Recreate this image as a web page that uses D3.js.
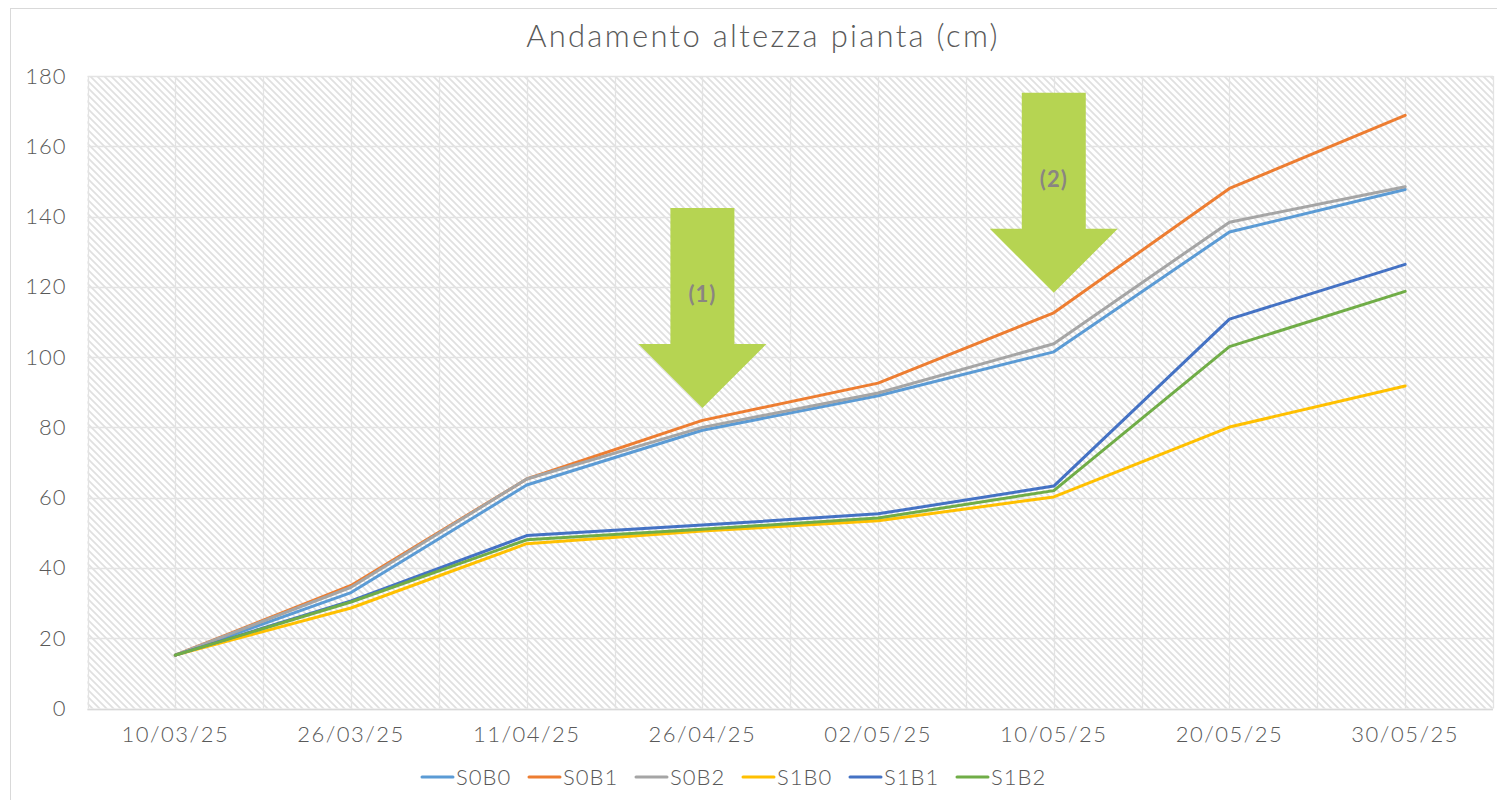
<!DOCTYPE html>
<html>
<head>
<meta charset="utf-8">
<script src="https://cdn.jsdelivr.net/npm/d3@7"></script>
<style>
  html, body { margin: 0; padding: 0; background: #ffffff; }
  svg { display: block; }
  text { font-family: "Lato", "Open Sans", sans-serif; }
</style>
</head>
<body>
<svg id="chart" width="1497" height="800"></svg>
<script>
// ---- data ----
const categories = ["10/03/25", "26/03/25", "11/04/25", "26/04/25", "02/05/25", "10/05/25", "20/05/25", "30/05/25"];
const seriesNames = ["S0B0", "S0B1", "S0B2", "S1B0", "S1B1", "S1B2"];
const S0B0 = [15.2, 33.0, 63.6, 79.2, 89.0, 101.5, 135.6, 147.7];
const S0B1 = [15.2, 35.0, 65.3, 82.0, 92.6, 112.6, 148.0, 168.8];
const S0B2 = [15.2, 34.5, 65.3, 80.0, 89.8, 103.8, 138.4, 148.5];
const S1B0 = [15.2, 28.6, 46.9, 50.5, 53.4, 60.2, 80.1, 91.8];
const S1B1 = [15.2, 30.6, 49.2, 52.2, 55.4, 63.3, 110.8, 126.4];
const S1B2 = [15.2, 30.3, 48.0, 51.0, 54.2, 62.0, 103.0, 118.7];
const seriesValues = [S0B0, S0B1, S0B2, S1B0, S1B1, S1B2];
const seriesColors = ["#5B9BD5", "#ED7D31", "#A5A5A5", "#FFC000", "#4472C4", "#70AD47"];
const yTicks = [0, 20, 40, 60, 80, 100, 120, 140, 160, 180];
// annotation arrows: category, tip value, top value, label
const arrowCats = ["26/04/25", "10/05/25"];
const arrowTips = [85.5, 118.3];
const arrowTops = [142.4, 175.2];
const arrowLabels = ["(1)", "(2)"];
const title = "Andamento altezza pianta (cm)";

// ---- layout ----
const svg = d3.select("#chart");
const plot = { left: 87.5, right: 1493, top: 76, bottom: 708.5 };
const textColor = "#595959";

const x = d3.scaleBand().domain(categories).range([plot.left, plot.right]).padding(0);
const xc = d => x(d) + x.bandwidth() / 2;
const y = d3.scaleLinear().domain([0, 180]).range([plot.bottom, plot.top]);

// outer chart border
svg.append("rect").attr("x", 10.5).attr("y", 8.5).attr("width", 1520).attr("height", 820)
  .attr("fill", "#ffffff").attr("stroke", "#d9d9d9").attr("stroke-width", 1);

// hatch pattern
const defs = svg.append("defs");
const pat = defs.append("pattern").attr("id", "hatch").attr("patternUnits", "userSpaceOnUse")
  .attr("width", 7).attr("height", 7);
pat.append("rect").attr("width", 7).attr("height", 7).attr("fill", "#ffffff");
pat.append("path").attr("d", "M-1,-1 L8,8 M-8,-1 L1,8 M6,-1 L15,8")
  .attr("stroke", "#e0e0e0").attr("stroke-width", 1.7);

svg.append("rect").attr("x", plot.left).attr("y", plot.top)
  .attr("width", plot.right - plot.left).attr("height", plot.bottom - plot.top)
  .attr("fill", "url(#hatch)");

// gridlines
const g = svg.append("g");
g.selectAll(".hgrid").data(yTicks).join("line")
  .attr("x1", plot.left).attr("x2", plot.right)
  .attr("y1", d => Math.round(y(d)) + 0.5).attr("y2", d => Math.round(y(d)) + 0.5)
  .attr("stroke", "#e3e3e3").attr("stroke-width", 1.3);
const vlines = [];
categories.forEach(c => { vlines.push(x(c)); vlines.push(xc(c)); });
vlines.push(plot.right);
g.selectAll(".vgrid").data(vlines).join("line")
  .attr("x1", d => Math.round(d) + 0.5).attr("x2", d => Math.round(d) + 0.5)
  .attr("y1", plot.top).attr("y2", plot.bottom)
  .attr("stroke", "#e3e3e3").attr("stroke-width", 1.3);

// bottom axis line
svg.append("line").attr("x1", plot.left).attr("x2", plot.right)
  .attr("y1", Math.round(plot.bottom) + 0.5).attr("y2", Math.round(plot.bottom) + 0.5)
  .attr("stroke", "#d9d9d9").attr("stroke-width", 1.5);

// y axis labels
const yAxis = d3.axisLeft(y).tickValues(yTicks).tickSize(0).tickPadding(21);
const yg = svg.append("g").attr("transform", `translate(${plot.left},0)`).call(yAxis);
yg.select(".domain").remove();
yg.selectAll("text").attr("fill", textColor).attr("font-size", 22).attr("font-weight", 300)
  .attr("letter-spacing", 1).attr("font-family", "Lato, sans-serif");

// x axis labels
const xAxis = d3.axisBottom(x).tickSize(0).tickPadding(18);
const xg = svg.append("g").attr("transform", `translate(0,${plot.bottom})`).call(xAxis);
xg.select(".domain").remove();
xg.selectAll("text").attr("fill", textColor).attr("font-size", 22).attr("font-weight", 300)
  .attr("letter-spacing", 1.5).attr("font-family", "Lato, sans-serif");

// lines
const line = d3.line().x((d, i) => xc(categories[i])).y(d => y(d));
svg.append("g").selectAll("path").data(seriesValues).join("path")
  .attr("d", d => line(d))
  .attr("fill", "none")
  .attr("stroke", (d, i) => seriesColors[i])
  .attr("stroke-width", 3)
  .attr("stroke-linejoin", "round").attr("stroke-linecap", "round");

// arrows
const shaftHalf = 32, headHalf = 64, headLen = 64;
const ag = svg.append("g");
arrowCats.forEach((c, i) => {
  const cx = xc(c);
  const tipY = y(arrowTips[i]);
  const topY = y(arrowTops[i]);
  const baseY = tipY - headLen;
  const pts = [
    [cx - shaftHalf, topY], [cx + shaftHalf, topY], [cx + shaftHalf, baseY],
    [cx + headHalf, baseY], [cx, tipY], [cx - headHalf, baseY], [cx - shaftHalf, baseY]
  ];
  ag.append("path").attr("d", d3.line()(pts) + "Z").attr("fill", "#B6D452");
  ag.append("text").attr("x", cx).attr("y", (topY + baseY) / 2 + 26)
    .attr("text-anchor", "middle").attr("font-size", 22).attr("font-weight", "bold")
    .attr("letter-spacing", 1)
    .attr("fill", "#8A8582").text(arrowLabels[i]);
});

// title
svg.append("text").attr("x", 763).attr("y", 47).attr("text-anchor", "middle")
  .attr("font-size", 31).attr("font-weight", 300).attr("letter-spacing", 2.3)
  .attr("fill", textColor).text(title);

// legend
const legendStart = 422, legendStep = 107, legendY = 777;
const lg = svg.append("g").selectAll("g").data(seriesNames).join("g")
  .attr("transform", (d, i) => `translate(${legendStart + i * legendStep},${legendY})`);
lg.append("line").attr("x1", 0).attr("x2", 31).attr("y1", 0).attr("y2", 0)
  .attr("stroke", (d, i) => seriesColors[i]).attr("stroke-width", 3).attr("stroke-linecap", "round");
lg.append("text").attr("x", 34).attr("y", 8).attr("font-size", 22).attr("font-weight", 300)
  .attr("letter-spacing", 1).attr("fill", textColor).text(d => d);
</script>
</body>
</html>
